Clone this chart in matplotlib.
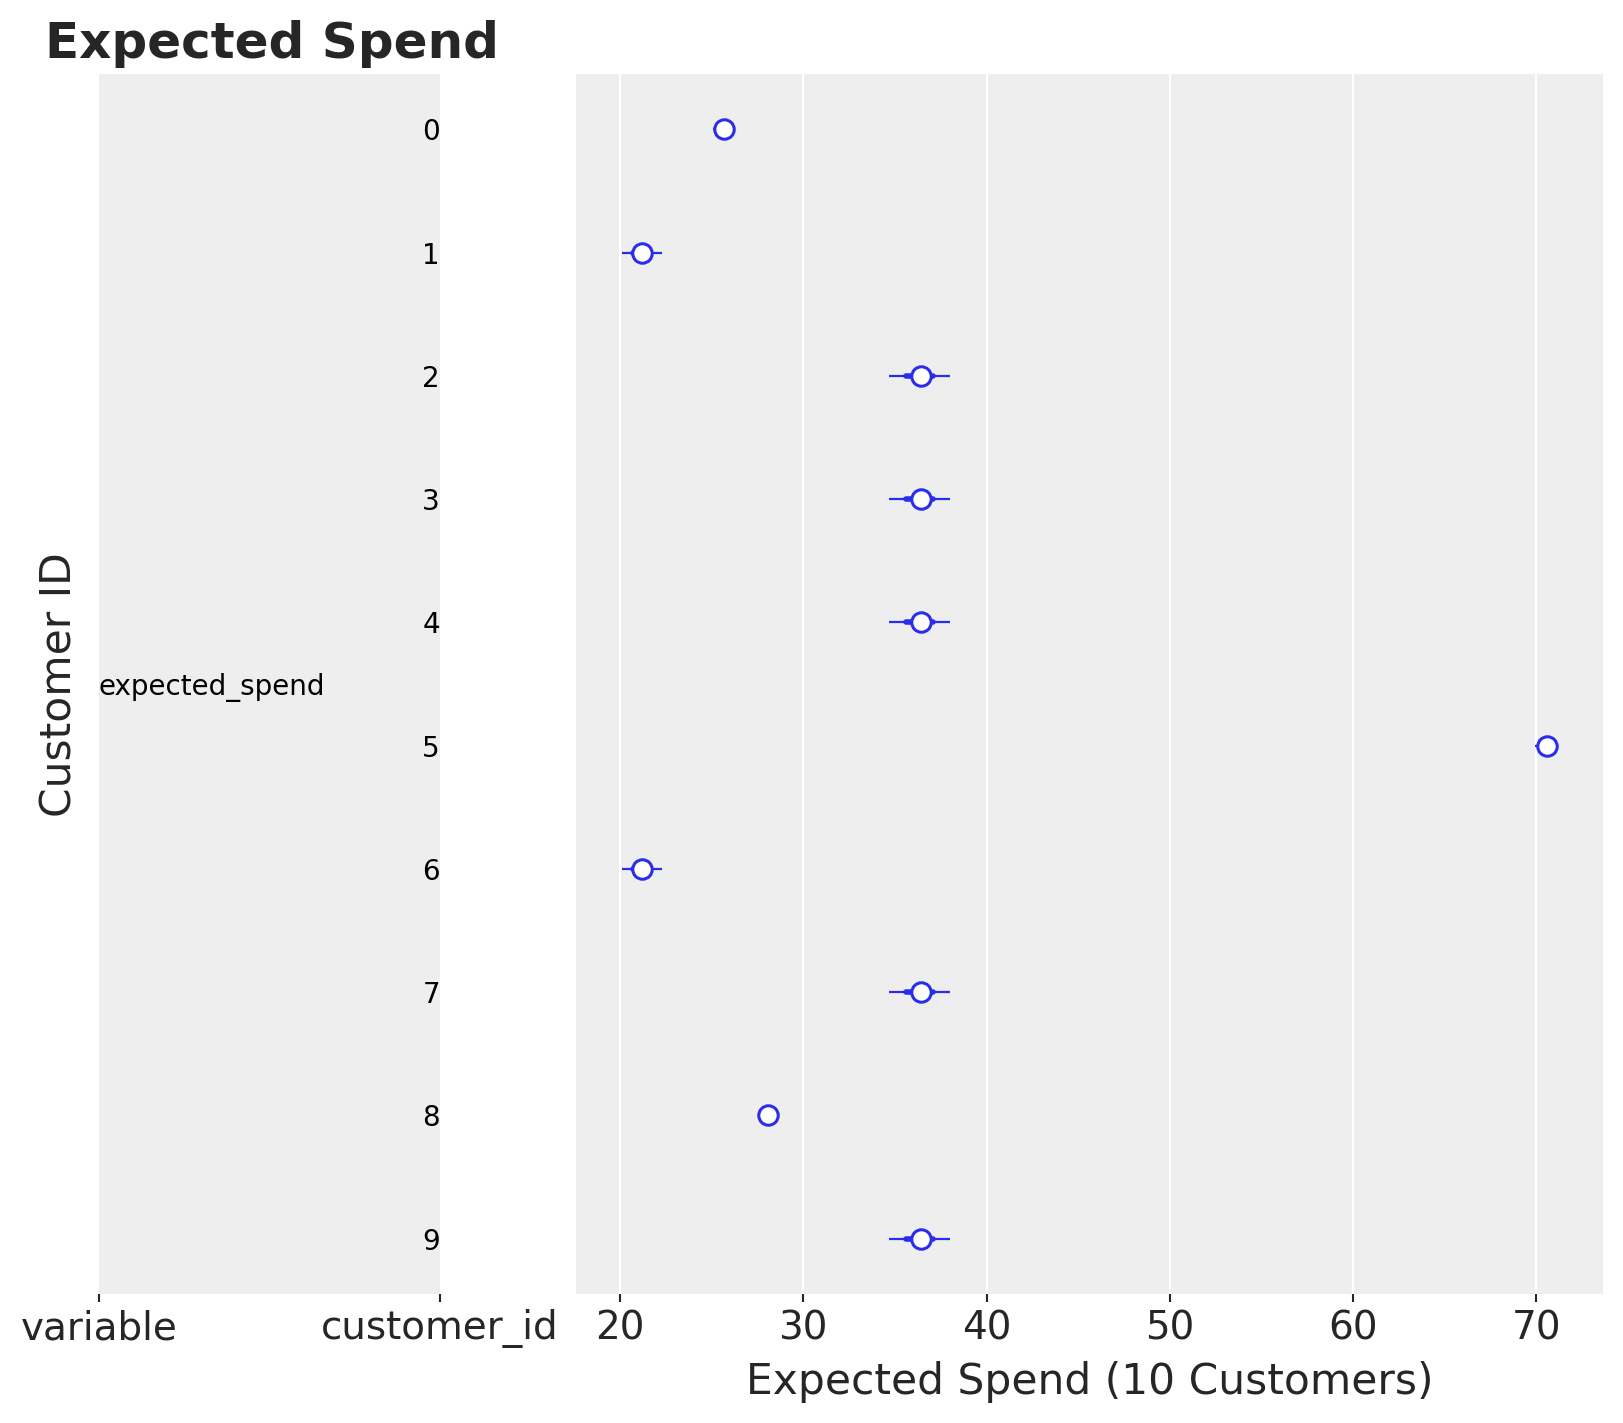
import numpy as np
import matplotlib
matplotlib.use("Agg")
import matplotlib.pyplot as plt

# values
customer_ids = ["0", "1", "2", "3", "4", "5", "6", "7", "8", "9"]
median = [25.7, 21.2, 36.4, 36.4, 36.4, 70.6, 21.2, 36.4, 28.1, 36.4]
hdi_low = [25.1, 20.1, 34.7, 34.7, 34.7, 69.9, 20.1, 34.7, 27.7, 34.7]
hdi_high = [26.1, 22.3, 38.0, 38.0, 38.0, 71.2, 22.3, 38.0, 28.5, 38.0]
iqr_low = [25.5, 20.7, 35.6, 35.6, 35.6, 70.3, 20.7, 35.6, 27.9, 35.6]
iqr_high = [25.9, 21.6, 37.1, 37.1, 37.1, 70.9, 21.6, 37.1, 28.3, 37.1]
col_labels = ["variable", "customer_id"]
var_name = "expected_spend"

blue = "#2a2eec"
bg = "#eeeeee"
txt = "#262626"

W, H = 1623, 1423
fig = plt.figure(figsize=(W / 100, H / 100), dpi=100)

bottom = 1 - 1294 / H
height = 1220 / H
ax_lab = fig.add_axes([99 / W, bottom, 341 / W, height])
ax = fig.add_axes([576 / W, bottom, 1027 / W, height])

n = len(customer_ids)
ypos = np.arange(n)[::-1]
ylim = (-0.45, n - 1 + 0.45)

for a in (ax_lab, ax):
    a.set_facecolor(bg)
    for s in a.spines.values():
        s.set_visible(False)
    a.set_ylim(*ylim)
    a.set_yticks([])
    a.tick_params(axis="x", length=6, width=1.5, color=txt, labelcolor=txt,
                  labelsize=28, pad=5)

# label column axis
ax_lab.set_xlim(0, 1)
ax_lab.set_xticks([0, 1])
ax_lab.set_xticklabels(col_labels)
for cid, y in zip(customer_ids, ypos):
    ax_lab.text(1, y, cid, ha="right", va="center_baseline", fontsize=20, color="black")
ax_lab.text(0, np.mean(ylim), var_name, ha="left", va="center_baseline",
            fontsize=20, color="black")

# forest axis
ax.set_xlim(17.6, 73.63)
ax.set_xticks([20, 30, 40, 50, 60, 70])
ax.grid(axis="x", color="white", linewidth=1.6)
ax.set_axisbelow(True)
for i, y in enumerate(ypos):
    ax.plot([hdi_low[i], hdi_high[i]], [y, y], color=blue, lw=1.6, solid_capstyle="butt", zorder=2)
    ax.plot([iqr_low[i], iqr_high[i]], [y, y], color=blue, lw=4, solid_capstyle="round", zorder=3)
    ax.plot(median[i], y, "o", mfc="white", mec=blue, ms=14, mew=2.2, zorder=4)
ax.set_xlabel("Expected Spend (10 Customers)", fontsize=30.5, color=txt, labelpad=10)

fig.text(45 / W, 1 - 44 / H, "Expected Spend", fontsize=36, fontweight="bold",
         color=txt, ha="left", va="center")
fig.text(60 / W, 1 - 685 / H, "Customer ID", fontsize=30.5, color=txt,
         rotation=90, ha="center", va="center")

fig.savefig("out.png", dpi=100)
